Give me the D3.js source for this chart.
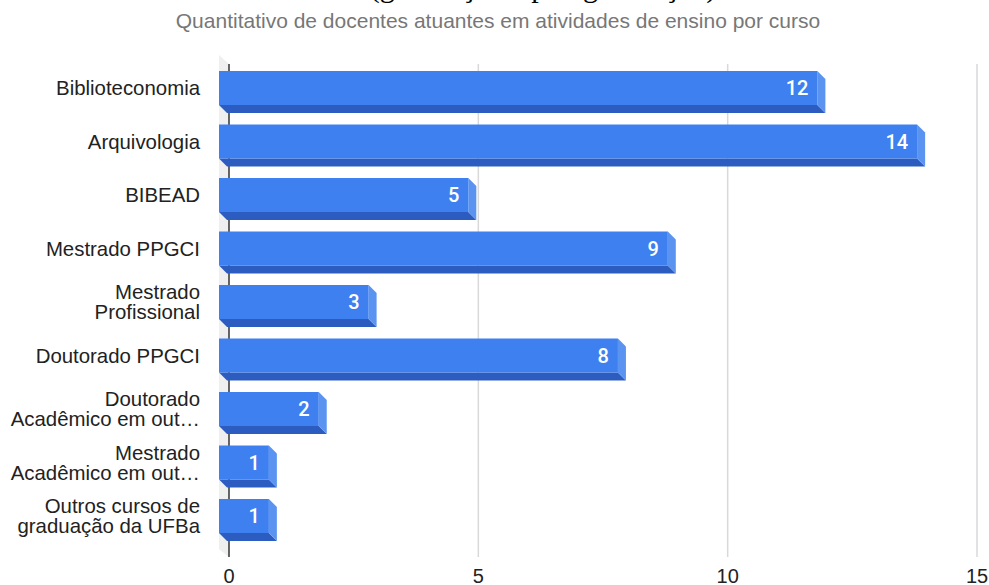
<!DOCTYPE html>
<html><head><meta charset="utf-8">
<script src="https://cdn.jsdelivr.net/npm/d3@7"></script>
<style>html,body{margin:0;padding:0;background:#fff;overflow:hidden}</style>
</head><body>
<svg id="c" width="989" height="585"></svg>
<script>
const categories = [
  ["Biblioteconomia"],
  ["Arquivologia"],
  ["BIBEAD"],
  ["Mestrado PPGCI"],
  ["Mestrado", "Profissional"],
  ["Doutorado PPGCI"],
  ["Doutorado", "Acadêmico em out…"],
  ["Mestrado", "Acadêmico em out…"],
  ["Outros cursos de", "graduação da UFBa"]
];
const values = [12, 14, 5, 9, 3, 8, 2, 1, 1];
const xTicks = [0, 5, 10, 15];
const titleText = "(graduação e pós-graduação)";
const subtitleText = "Quantitativo de docentes atuantes em atividades de ensino por curso";

const svg = d3.select("#c");
const font = "Liberation Sans, Arial, sans-serif";

const x = d3.scaleLinear().domain([0, 15]).range([229, 977]);
const ids = categories.map((d, i) => i);
const y = d3.scaleBand().domain(ids).range([61.25, 542.75]).paddingInner(0.3645).paddingOuter(0.18225);

const fdx = -10;   // front face offset from back plane
const ddx = 8, ddy = 8; // depth

const plotTop = 64, plotBottom = 557;

// side wall
svg.append("path")
  .attr("d", `M${x(0)+fdx},${plotTop-9} L${x(0)},${plotTop} L${x(0)},${plotBottom} L${x(0)+fdx},${plotBottom-8} Z`)
  .attr("fill", "#efefef");

// gridlines
svg.append("g").selectAll("line").data(xTicks.slice(1)).join("line")
  .attr("x1", d => x(d)).attr("x2", d => x(d))
  .attr("y1", plotTop).attr("y2", plotBottom)
  .attr("stroke", "#d9d9d9").attr("stroke-width", 1.5);

// zero line
svg.append("line").attr("x1", x(0)).attr("x2", x(0))
  .attr("y1", plotTop).attr("y2", plotBottom)
  .attr("stroke", "#333").attr("stroke-width", 1.5);

// bars
const bars = svg.append("g").selectAll("g").data(values).join("g");
bars.each(function(v, i) {
  const g = d3.select(this);
  const xl = x(0) + fdx, xr = x(v) + fdx;
  const y0 = y(i), y1 = y(i) + y.bandwidth();
  g.append("path")
    .attr("d", `M${xl},${y1} L${xr},${y1} L${xr+ddx},${y1+ddy} L${xl+ddx},${y1+ddy} Z`)
    .attr("fill", "#2d5cc0");
  g.append("path")
    .attr("d", `M${xr},${y0} L${xr+ddx},${y0+ddy} L${xr+ddx},${y1+ddy} L${xr},${y1} Z`)
    .attr("fill", "#5a93f0");
  g.append("rect")
    .attr("x", xl).attr("y", y0).attr("width", xr - xl).attr("height", y1 - y0)
    .attr("fill", "#3e80ef");
  g.append("text")
    .attr("x", xr - 9).attr("y", (y0 + y1) / 2 + 7)
    .attr("text-anchor", "end")
    .attr("font-family", "Roboto, Liberation Sans, sans-serif").attr("font-size", 20).attr("font-weight", 500)
    .attr("fill", "#fff").text(v);
});

// category labels
const labels = svg.append("g").selectAll("text").data(categories).join("text")
  .attr("text-anchor", "end")
  .attr("font-family", font).attr("font-size", 20.4).attr("fill", "#222");
labels.each(function(lines, i) {
  const cy = y(i) + y.bandwidth() / 2;
  const t = d3.select(this);
  const n = lines.length;
  lines.forEach((ln, k) => {
    t.append("tspan").attr("x", 200)
      .attr("y", cy + 7 + (k - (n - 1) / 2) * 20)
      .text(ln);
  });
});

// x tick labels
svg.append("g").selectAll("text").data(xTicks).join("text")
  .attr("x", d => x(d)).attr("y", 583)
  .attr("text-anchor", "middle")
  .attr("font-family", font).attr("font-size", 20).attr("fill", "#222")
  .text(d => d);

// title (mostly cut off at the top, as in the reference)
svg.append("text").attr("x", 543).attr("y", -3)
  .attr("text-anchor", "middle")
  .attr("font-family", "Liberation Serif, Times New Roman, serif").attr("font-size", 30)
  .attr("fill", "#000").text(titleText);

// subtitle
svg.append("text").attr("x", 498).attr("y", 28)
  .attr("text-anchor", "middle")
  .attr("font-family", font).attr("font-size", 21).attr("fill", "#777")
  .text(subtitleText);
</script>
</body></html>
